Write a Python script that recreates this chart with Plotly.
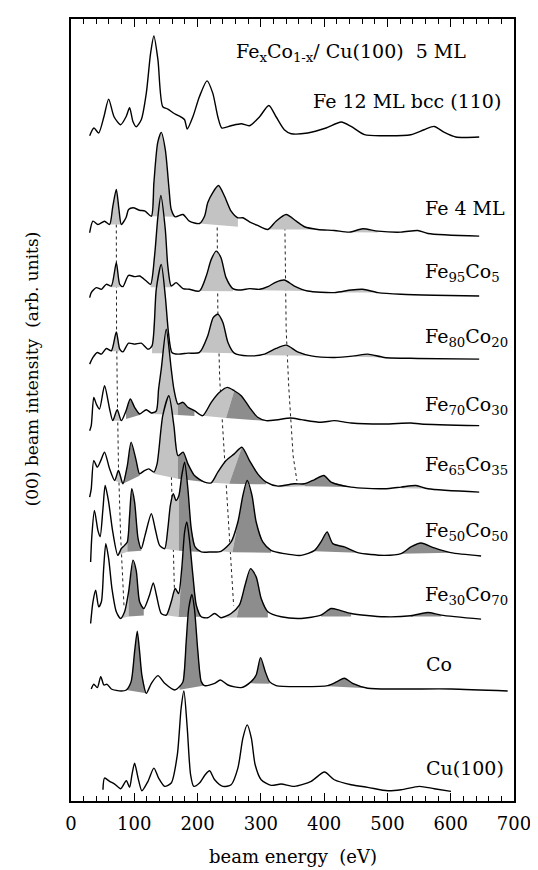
import plotly.graph_objects as go

# ---------------- data (beam energy in eV, intensity in arb. units) ----------------
offsets = [665, 565, 505, 442, 375, 309, 245, 181, 109, 9]

fe12_E = [29.5, 36.3, 43.7, 52, 59.5, 68, 78.4, 87, 92.6, 98, 103, 111, 119, 125.8, 131, 137.4, 145, 153,
          163.7, 174, 179.5, 183.7, 192.6, 203, 215, 224, 232, 238.4, 253, 269, 282, 298, 312.6, 324, 337,
          348, 374, 403, 427, 442.6, 463.7, 495, 537, 558, 574, 590, 608, 645]
fe12_I = [2, 9.7, 4.7, 21, 38.7, 21, 13, 21, 30, 16, 11, 18, 44.7, 84.7, 102, 78, 31, 28.7,
          24, 20.7, 18, 8.7, 21, 41.3, 57, 44.7, 21, 9.7, 12, 14, 12, 21, 32.3, 21, 8,
          4, 4.7, 9.7, 15.7, 11.3, 3, 2, 3, 8, 11.3, 5.3, 0.7, 0.7]

fe4_E = [29.5, 34.7, 42.6, 53, 61, 66, 71.6, 75.8, 79.5, 87, 91, 98, 108.4, 117, 127, 131, 137, 142.6, 149,
         155, 158.4, 164.7, 177, 187, 203, 211, 216, 224, 233, 242.6, 253, 263.7, 271.6, 282, 295, 311, 324,
         340, 356, 369, 390, 416, 440, 461, 485, 521.6, 548, 564, 645]
fe4_I = [4.7, 16.3, 13, 16.3, 13, 31, 48, 28, 13, 20, 28, 29.7, 27.3, 26.3, 21.3, 55, 95, 105.3, 88,
         48, 28, 20.7, 23, 16.3, 14, 21.3, 34.7, 45, 52, 41.3, 26.3, 19.7, 19.7, 15.7, 12, 8, 16.3,
         23, 16.3, 10.7, 8, 7, 5.3, 8.7, 6.3, 5.3, 7, 4, 1.3]

fe95_E = [29.5, 32, 40, 48, 55.8, 63.7, 71.6, 77, 82, 91, 100.5, 108.4, 119, 125.8, 132, 137.4, 142, 149,
          153, 158.4, 166, 177, 187, 203, 213.7, 221.6, 229.5, 237, 245, 255.8, 269, 282, 298, 311, 324,
          337, 353, 374, 416, 442.6, 461, 485, 521.6, 574, 645]
fe95_I = [-0.3, 4.7, 9.7, 8, 13, 11.3, 34.7, 13, 10.7, 22, 20.7, 21.3, 16.3, 13, 41.3, 81.3, 102, 68,
          31.3, 11.3, 14.7, 8.7, 8, 6.3, 21.3, 38, 46.3, 39.7, 19.7, 8.7, 7.3, 8.7, 8, 10.7, 15.3,
          17.3, 11.3, 6.3, 4.7, 7.3, 8, 4.7, 3, 2, 1.3]

fe80_E = [29.5, 34.7, 41.6, 48, 55.8, 63.7, 71.6, 77, 82, 91, 100.5, 111, 121.6, 128, 134.7, 142.6, 149,
          154, 159.5, 169, 184.7, 203, 216, 224.7, 232, 240, 248, 258, 279.5, 305.8, 324, 340, 358,
          379.5, 416, 448, 469, 495, 548, 645]
fe80_I = [-4, 2.7, 7.7, 6, 11.7, 9.3, 28.3, 11, 8.3, 17, 16, 17, 11, 14.3, 71, 96, 64,
          27.7, 7.7, 6, 7, 7.7, 24.3, 42.7, 46, 37.7, 17.7, 7, 4.3, 6, 11.7, 15, 8.3,
          4.3, 2.7, 4.3, 6, 2.7, 1.7, 1]

fe70_E = [29.5, 32, 36, 40, 45, 53, 61, 66, 73, 79.5, 87, 93.7, 100.5, 108.4, 119, 127, 134.7, 138.4,
          142.6, 150.5, 158.4, 162.6, 169, 177, 184.7, 195, 208, 221.6, 234.7, 247, 258, 269, 282, 295,
          308.4, 327, 347, 364, 395, 416, 442.6, 495, 537, 553, 645]
fe70_I = [-3.7, 1.3, 29.7, 23, 18, 41.3, 18, 6.3, 17.3, 6.3, 16.3, 28, 19.7, 13, 17.3, 14, 16, 38,
          58, 98, 58, 38, 23, 24.7, 19.7, 16.3, 11.3, 24.7, 34.7, 39.7, 36.3, 31.3, 19.7, 9.7,
          6.3, 7.3, 9, 7.3, 4.7, 6.3, 4, 3, 4, 3, 1.3]

fe65_E = [29.5, 32, 36, 41.6, 47, 53, 61, 69, 75, 82, 89, 95, 103, 108.4, 116, 123, 131, 136, 145,
          154.7, 162.6, 169, 177, 184.7, 195, 211, 221.6, 232, 245, 258, 270, 282, 295, 308.4, 327,
          353, 369, 385, 399.5, 411, 442.6, 495, 521.6, 545, 564, 645]
fe65_I = [-4.3, 4, 32.3, 25.7, 32.3, 40.7, 24, 12.3, 22.3, 9, 27.3, 50.7, 32.3, 19, 22.3, 24, 20.7, 29, 77.3,
          97.3, 67.3, 37.3, 40.7, 29, 17.3, 10.7, 10, 20.7, 32.3, 39, 45.7, 32.3, 19, 10.7, 6.7,
          9, 9, 13.3, 17.3, 10.7, 5.7, 4, 5.7, 7.3, 4, 0.7]

fe50_E = [31, 33, 37, 42.6, 46, 50.5, 54, 59.5, 66, 74, 79.5, 84.7, 89, 92.6, 96, 100.5, 106, 111, 117,
          127, 133, 140, 148, 153, 157, 161.6, 166, 170.5, 175, 179.5, 184.7, 190, 196, 205.8, 221.6,
          237, 253, 263.7, 271.6, 278.4, 286, 292.6, 303, 316, 337, 363.7, 385, 395, 404.7, 413.7,
          432, 453, 495, 521.6, 537, 553, 574, 600, 648]
fe50_I = [-5.3, 21.3, 46.3, 26, 20, 48, 71.3, 54.7, 24.7, 1.3, 8, 11.3, 14.7, 41.3, 68, 54.7, 18, 8, 21.3,
          43, 28, 11.3, 8, 28, 51.3, 63, 56.3, 61.3, 81.3, 94.7, 68, 28, 9.7, 4.7, 4.7,
          5.3, 14.7, 34.7, 61.3, 76.3, 61.3, 34.7, 14.7, 6.3, 3, 1.3, 6.3, 14.7, 24.7, 13,
          9.7, 4, 1.3, 3, 9.7, 13.7, 8.7, 4, 0.7]

fe30_E = [31, 34.7, 39, 43.7, 48, 51.6, 55, 59.5, 64.7, 71.6, 78.4, 84.7, 91, 98, 103, 108.4, 115, 124,
          130, 135, 142.6, 150.5, 158.4, 164.7, 170, 175, 179.5, 183, 187, 192.6, 198, 205.8, 216, 227,
          237, 253, 266, 275, 283.7, 292.6, 300.5, 311, 332, 363.7, 395, 411, 424, 442.6, 495, 537,
          563.7, 585, 648]
fe30_I = [-3, 18.7, 30.3, 13.7, 18.7, 52, 77, 62, 32, 8.7, 2, 8.7, 28.7, 60.3, 50.3, 18.7, 12, 25.3,
          37.7, 25.3, 7, 5.3, 18.7, 32, 27, 52, 88.7, 98.7, 82, 45.3, 15.3, 3.7, 2.7, 7,
          2.7, 7, 15.3, 35.3, 52, 43.7, 22, 8.7, 3.7, 2, 5.3, 12, 10.3, 7, 3.7, 4.7,
          8, 5.3, 1.3]

co_E = [32, 36, 41.6, 47, 52, 57, 63.7, 79.5, 87.4, 95, 100.5, 104.7, 108.4, 112, 119, 127, 137.4, 148,
        164, 171.6, 177, 182, 186, 191, 195, 200.5, 205.8, 211, 227, 236, 248, 269, 284.7, 292.6, 299.5,
        307, 313.7, 324, 363.7, 405.8, 420.5, 432, 445, 469, 521.6, 600.5, 690]
co_I = [3.3, 8, 4.7, 15.7, 7.3, 8, 3.3, 1.3, 2.3, 10.7, 40.7, 61.3, 40.7, 17.3, -1, 9, 16.7, 9,
        2.3, 5.7, 10.7, 50.7, 84, 98, 84, 40.7, 10.7, 6.7, 9, 12.3, 7.3, 4.7, 10.7, 17.3, 34.7,
        20.7, 10.7, 6.7, 5.7, 6.7, 10.7, 14, 9, 4, 3.3, 3.3, 1.3]

cu_E = [50.5, 53, 61, 69, 78.4, 87.4, 92.6, 96.3, 100.5, 106, 112, 121.6, 131, 138.4, 148, 158.4, 168,
        174, 178.4, 183.7, 189, 194, 203, 212, 219, 227, 240, 253, 263.7, 271.6, 278.4, 285, 291, 300.5,
        316.3, 332, 353, 379.5, 400.5, 416, 442.6, 469, 500.5, 521.6, 550.5, 574, 600.5]
cu_I = [2.3, 14, 10.7, 8, 3.3, 11.3, 4.7, 17.3, 29, 14, 1.3, 10.7, 24, 14, 5.7, 9, 37.3,
        84, 101.3, 64, 17.3, 5.7, 9, 17.3, 21.3, 12.3, 5.7, 7.3, 24, 54, 67.3, 54, 27.3, 12.3,
        6.7, 8, 5.7, 10.7, 20, 12.3, 7.3, 4.7, 1.3, 2.3, 5.7, 3.3, 0.7]

spectra_E = [fe12_E, fe4_E, fe95_E, fe80_E, fe70_E, fe65_E, fe50_E, fe30_E, co_E, cu_E]
spectra_I = [fe12_I, fe4_I, fe95_I, fe80_I, fe70_I, fe65_I, fe50_I, fe30_I, co_I, cu_I]

labels = ["Fe 12 ML bcc (110)", "Fe 4 ML", "Fe<sub>95</sub>Co<sub>5</sub>", "Fe<sub>80</sub>Co<sub>20</sub>",
          "Fe<sub>70</sub>Co<sub>30</sub>", "Fe<sub>65</sub>Co<sub>35</sub>", "Fe<sub>50</sub>Co<sub>50</sub>",
          "Fe<sub>30</sub>Co<sub>70</sub>", "Co", "Cu(100)"]
label_E = [379, 556, 556, 556, 556, 556, 556, 556, 558, 557]
label_Y = [702, 595, 530, 465, 397, 336, 270, 206, 137, 33]

# shaded peak components: (spectrum index, curve from, curve to, base start E, base start I, base end E, base end I, tone)
fills = [
    (1, 61, 79.5, 61, 13, 79.5, 13, "light"),
    (1, 127, 164.7, 127, 21.3, 164.7, 20.7, "light"),
    (1, 203, 263.7, 203, 14, 263.7, 10.7, "light"),
    (1, 311, 390, 311, 8, 390, 8, "light"),
    (1, 440, 485, 440, 5.3, 485, 5, "light"),
    (2, 63.7, 77, 63.7, 10, 77, 10, "light"),
    (2, 125.8, 158.4, 125.8, 10, 158.4, 10, "light"),
    (2, 203, 255.8, 203, 6.3, 255.8, 6, "light"),
    (2, 298, 374, 298, 7, 374, 6.3, "light"),
    (2, 416, 485, 416, 4.7, 485, 4.7, "light"),
    (3, 63.7, 77, 63.7, 9, 77, 9, "light"),
    (3, 128, 159.5, 128, 7, 159.5, 7, "light"),
    (3, 203, 258, 203, 7.7, 258, 7, "light"),
    (3, 305.8, 379.5, 305.8, 5, 379.5, 4.3, "light"),
    (3, 448, 495, 448, 3.5, 495, 2.7, "light"),
    (4, 66, 79.5, 66, 6.3, 79.5, 6.3, "light"),
    (4, 87, 108.4, 87, 8, 108.4, 12, "dark"),
    (4, 127, 169, 127, 13, 169, 12, "light"),
    (4, 169, 195, 169, 12, 195, 11, "dark"),
    (4, 208, 258, 208, 11.3, 245, 9, "light"),
    (4, 258, 308.4, 245, 9, 308.4, 6, "dark"),
    (5, 69, 82, 69, 12, 82, 9, "light"),
    (5, 82, 108.4, 82, 9, 108.4, 17, "dark"),
    (5, 131, 169, 131, 19, 169, 14, "light"),
    (5, 169, 211, 169, 14, 211, 10.7, "dark"),
    (5, 221.6, 270, 221.6, 10, 250, 9, "light"),
    (5, 270, 308.4, 250, 9, 308.4, 8.5, "dark"),
    (5, 327, 369, 327, 5.5, 369, 6.5, "light"),
    (5, 369, 442.6, 369, 6.5, 442.6, 5.7, "dark"),
    (5, 521.6, 564, 521.6, 4.5, 564, 4, "light"),
    (6, 74, 89, 74, 1.3, 89, 5, "light"),
    (6, 89, 111, 89, 5, 111, 6, "dark"),
    (6, 148, 170.5, 148, 8, 170.5, 6, "light"),
    (6, 170.5, 205.8, 170.5, 6, 205.8, 4.7, "dark"),
    (6, 237, 263.7, 237, 5.3, 255, 4.5, "light"),
    (6, 263.7, 316, 255, 4.5, 316, 4, "dark"),
    (6, 385, 453, 385, 5.5, 453, 4, "dark"),
    (6, 521.6, 600, 521.6, 3, 600, 4, "dark"),
    (7, 78.4, 91, 78.4, 2, 91, 4, "light"),
    (7, 91, 115, 91, 4, 115, 5, "dark"),
    (7, 150.5, 175, 150.5, 5.3, 170, 3.5, "light"),
    (7, 175, 205.8, 170, 3.5, 205.8, 3.7, "dark"),
    (7, 237, 266, 237, 2.7, 262, 3, "light"),
    (7, 266, 311, 262, 3, 311, 3, "dark"),
    (7, 395, 442.6, 395, 4, 442.6, 4, "dark"),
    (7, 537, 585, 537, 4, 585, 4, "dark"),
    (8, 87.4, 119, 87.4, 2.3, 119, -1, "dark"),
    (8, 171.6, 211, 171.6, 2.5, 211, 6.7, "dark"),
    (8, 284.7, 313.7, 284.7, 9, 313.7, 8.5, "dark"),
    (8, 405.8, 469, 405.8, 6, 469, 4, "dark"),
]

# dashed guide lines following peak positions (energy, stacked intensity)
guide_E = [[71.6, 71.6, 72, 73, 75, 78.4, 83.7],
           [158.4, 163.7],
           [231, 232, 235, 242, 250, 257],
           [338, 340, 344, 351, 357]]
guide_Y = [[578, 565, 473, 416, 336, 266, 196],
           [331, 205],
           [575, 493, 423, 350, 273, 196],
           [575, 473, 416, 346, 321]]

x_ticks = [0, 100, 200, 300, 400, 500, 600, 700]

# ---------------- figure ----------------
FONT = "DejaVu Serif"
tone_color = {"light": "#c3c3c3", "dark": "#8d8d8d"}

fig = go.Figure()

for gx, gy in zip(guide_E, guide_Y):
    fig.add_trace(go.Scatter(x=gx, y=gy, mode="lines",
                             line=dict(color="#222222", width=1, dash="3px,3px"),
                             hoverinfo="skip", showlegend=False))

for (k, e0, e1, b0e, b0i, b1e, b1i, tone) in fills:
    off = offsets[k]
    xs = [b0e]
    ys = [b0i + off]
    for e, v in zip(spectra_E[k], spectra_I[k]):
        if e0 - 1e-6 <= e <= e1 + 1e-6:
            xs.append(e)
            ys.append(v + off)
    xs.append(b1e)
    ys.append(b1i + off)
    fig.add_trace(go.Scatter(x=xs, y=ys, mode="lines", fill="toself",
                             fillcolor=tone_color[tone], line=dict(width=0, color=tone_color[tone]),
                             hoverinfo="skip", showlegend=False))

for E, I, off in zip(spectra_E, spectra_I, offsets):
    fig.add_trace(go.Scatter(x=E, y=[v + off for v in I], mode="lines",
                             line=dict(color="black", width=1.4, shape="spline", smoothing=0.7),
                             hoverinfo="skip", showlegend=False))

for txt, ex, yy in zip(labels, label_E, label_Y):
    fig.add_annotation(x=ex, y=yy, xref="x", yref="y", text=txt, showarrow=False,
                       xanchor="left", yanchor="middle",
                       font=dict(family=FONT, size=19, color="black"))

fig.add_annotation(x=257.5, y=750, xref="x", yref="y",
                   text="Fe<sub>x</sub>Co<sub>1-x</sub>/ Cu(100)\u00a0\u00a05 ML",
                   showarrow=False, xanchor="left", yanchor="middle",
                   font=dict(family=FONT, size=19, color="black"))

fig.add_annotation(x=-0.088, y=0.552, xref="paper", yref="paper",
                   text="(00) beam intensity\u00a0\u00a0(arb. units)", textangle=-90,
                   showarrow=False, xanchor="center", yanchor="middle",
                   font=dict(family=FONT, size=17, color="black"))

fig.add_annotation(x=0.5, y=-0.071, xref="paper", yref="paper",
                   text="beam energy\u00a0\u00a0(eV)", showarrow=False,
                   xanchor="center", yanchor="middle",
                   font=dict(family=FONT, size=18, color="black"))

fig.update_layout(
    width=538, height=870,
    margin=dict(l=63, r=32, t=9, b=77),
    paper_bgcolor="white", plot_bgcolor="white",
    showlegend=False,
    xaxis=dict(range=[0, 700], tickvals=x_ticks, ticktext=[str(t) for t in x_ticks],
               ticks="inside", ticklen=8, tickwidth=1, tickcolor="black",
               minor=dict(dtick=20, tick0=0, ticks="inside", ticklen=5, tickwidth=1, tickcolor="black"),
               showline=True, linecolor="black", linewidth=1.6, mirror="ticks",
               showgrid=False, zeroline=False, ticklabelstandoff=6,
               tickfont=dict(family=FONT, size=18, color="black")),
    yaxis=dict(range=[0, 784], showticklabels=False, ticks="", showgrid=False, zeroline=False,
               showline=True, linecolor="black", linewidth=1.6, mirror=True),
)

fig.write_html("out.html")
